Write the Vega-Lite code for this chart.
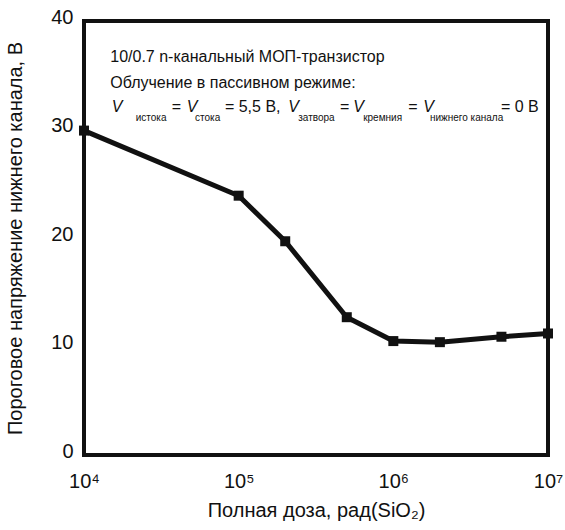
{
  "$schema": "https://vega.github.io/schema/vega-lite/v6.json",
  "width": 464,
  "height": 434,
  "autosize": {"type": "none"},
  "padding": {"left": 84, "top": 21, "right": 17, "bottom": 75},
  "background": "white",
  "config": {
    "view": {"stroke": "#111", "strokeWidth": 4},
    "font": "Liberation Sans"
  },
  "datasets": {
    "curve": [
      {"dose": 10000, "voltage": 29.9},
      {"dose": 100000, "voltage": 23.9},
      {"dose": 200000, "voltage": 19.7},
      {"dose": 500000, "voltage": 12.7},
      {"dose": 1000000, "voltage": 10.5},
      {"dose": 2000000, "voltage": 10.4},
      {"dose": 5000000, "voltage": 10.9},
      {"dose": 10000000, "voltage": 11.2}
    ],
    "x_major": [{"dose": 10000}, {"dose": 100000}, {"dose": 1000000}, {"dose": 10000000}],
    "x_minor": [
      {"dose": 20000}, {"dose": 30000}, {"dose": 40000}, {"dose": 50000}, {"dose": 60000}, {"dose": 70000}, {"dose": 80000}, {"dose": 90000},
      {"dose": 200000}, {"dose": 300000}, {"dose": 400000}, {"dose": 500000}, {"dose": 600000}, {"dose": 700000}, {"dose": 800000}, {"dose": 900000},
      {"dose": 2000000}, {"dose": 3000000}, {"dose": 4000000}, {"dose": 5000000}, {"dose": 6000000}, {"dose": 7000000}, {"dose": 8000000}, {"dose": 9000000}
    ],
    "y_major": [{"voltage": 0}, {"voltage": 10}, {"voltage": 20}, {"voltage": 30}, {"voltage": 40}],
    "y_minor": [{"voltage": 5}, {"voltage": 15}, {"voltage": 25}, {"voltage": 35}],
    "ann_main": [
      {"dose": 14790, "voltage": 36.2, "label": "10/0.7 n-канальный МОП-транзистор"},
      {"dose": 14790, "voltage": 33.86, "label": "Облучение в пассивном режиме:"},
      {"dose": 36900, "voltage": 31.6, "label": "="},
      {"dose": 81470, "voltage": 31.6, "label": "= 5,5 В,"},
      {"dose": 451900, "voltage": 31.6, "label": "="},
      {"dose": 1247000, "voltage": 31.6, "label": "="},
      {"dose": 4961000, "voltage": 31.6, "label": "= 0 В"}
    ],
    "ann_italic": [
      {"dose": 15100, "voltage": 31.6, "label": "V"},
      {"dose": 46130, "voltage": 31.6, "label": "V"},
      {"dose": 209400, "voltage": 31.6, "label": "V"},
      {"dose": 550800, "voltage": 31.6, "label": "V"},
      {"dose": 1560000, "voltage": 31.6, "label": "V"}
    ],
    "ann_sub": [
      {"dose": 21580, "voltage": 30.8, "label": "истока"},
      {"dose": 52240, "voltage": 30.8, "label": "стока"},
      {"dose": 242700, "voltage": 30.8, "label": "затвора"},
      {"dose": 638300, "voltage": 30.8, "label": "кремния"},
      {"dose": 1724000, "voltage": 30.8, "label": "нижнего канала"}
    ]
  },
  "encoding": {
    "x": {
      "field": "dose",
      "type": "quantitative",
      "scale": {"type": "log", "domain": [10000, 10000000]},
      "axis": {
        "values": [10000, 100000, 1000000, 10000000],
        "labelExpr": "datum.value == 10000 ? '10⁴' : datum.value == 100000 ? '10⁵' : datum.value == 1000000 ? '10⁶' : '10⁷'",
        "domain": false,
        "grid": false,
        "ticks": false,
        "labelFontSize": 20,
        "labelColor": "#111",
        "labelPadding": 16,
        "labelOverlap": false,
        "labelFlush": false,
        "title": "Полная доза, рад(SiO₂)",
        "titleFontSize": 20,
        "titleFontWeight": "normal",
        "titleColor": "#111",
        "titlePadding": 9
      }
    },
    "y": {
      "field": "voltage",
      "type": "quantitative",
      "scale": {"domain": [0, 40], "nice": false, "zero": false},
      "axis": {
        "values": [0, 10, 20, 30, 40],
        "domain": false,
        "grid": false,
        "ticks": false,
        "labelFontSize": 20,
        "labelColor": "#111",
        "labelPadding": 11,
        "labelOffset": -4,
        "labelOverlap": false,
        "labelFlush": false,
        "title": "Пороговое напряжение нижнего канала, В",
        "titleFontSize": 20,
        "titleFontWeight": "normal",
        "titleColor": "#111",
        "titlePadding": 25
      }
    }
  },
  "layer": [
    {
      "data": {"name": "x_major"},
      "mark": {"type": "point", "filled": true, "opacity": 1, "color": "#111", "size": 36, "shape": "M-0.5,0L0.5,0L0.5,3.5L-0.5,3.5Z"},
      "encoding": {"y": {"datum": 0}}
    },
    {
      "data": {"name": "x_minor"},
      "mark": {"type": "point", "filled": true, "opacity": 1, "color": "#111", "size": 36, "shape": "M-0.5,0L0.5,0L0.5,2L-0.5,2Z"},
      "encoding": {"y": {"datum": 0}}
    },
    {
      "data": {"name": "y_major"},
      "mark": {"type": "point", "filled": true, "opacity": 1, "color": "#111", "size": 36, "shape": "M0,-0.5L-3.5,-0.5L-3.5,0.5L0,0.5Z"},
      "encoding": {"x": {"datum": 10000}}
    },
    {
      "data": {"name": "y_minor"},
      "mark": {"type": "point", "filled": true, "opacity": 1, "color": "#111", "size": 36, "shape": "M0,-0.5L-2.7,-0.5L-2.7,0.5L0,0.5Z"},
      "encoding": {"x": {"datum": 10000}}
    },
    {
      "data": {"name": "curve"},
      "mark": {"type": "line", "color": "#111", "strokeWidth": 5, "strokeJoin": "round"}
    },
    {
      "data": {"name": "curve"},
      "mark": {"type": "point", "shape": "square", "filled": true, "size": 100, "color": "#111", "opacity": 1}
    },
    {
      "data": {"name": "ann_main"},
      "mark": {"type": "text", "align": "left", "baseline": "alphabetic", "fontSize": 16, "color": "#111"},
      "encoding": {"text": {"field": "label"}}
    },
    {
      "data": {"name": "ann_italic"},
      "mark": {"type": "text", "align": "left", "baseline": "alphabetic", "fontSize": 16, "fontStyle": "italic", "color": "#111"},
      "encoding": {"text": {"field": "label"}}
    },
    {
      "data": {"name": "ann_sub"},
      "mark": {"type": "text", "align": "left", "baseline": "alphabetic", "fontSize": 10, "color": "#111"},
      "encoding": {"text": {"field": "label"}}
    }
  ]
}
